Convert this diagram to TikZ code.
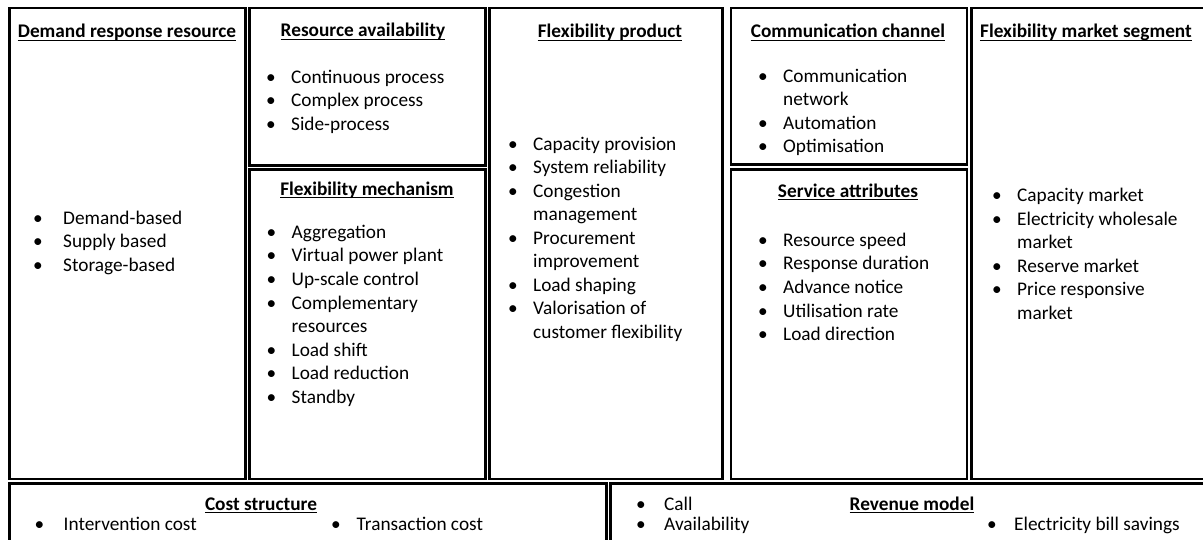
\documentclass[tikz,border=0pt]{standalone}
\usepackage{fontspec}
\setmainfont{Carlito}
\begin{document}
\begin{tikzpicture}[x=1pt,y=-1pt,
  box/.style={draw=black,line width=2.7pt},
  ttl/.style={inner sep=0pt,font=\bfseries\fontsize{19.3}{23.4}\selectfont,anchor=base},
  itm/.style={inner sep=0pt,font=\fontsize{19.3}{23.4}\selectfont,anchor=base west},
  bul/.style={inner sep=0pt,font=\fontsize{19.3}{23.4}\selectfont,anchor=base},
  ul/.style={line width=1.3pt}]
\useasboundingbox (0,0) rectangle (1203,540);
\fill[white] (0,0) rectangle (1203,540);
\clip (0,0) rectangle (1203,540);
% boxes
\draw[box] (9.5,8) rectangle (245.3,479);
\draw[box] (249.3,8) rectangle (485.3,165.3);
\draw[box] (249.3,169.8) rectangle (485.3,479);
\draw[box] (489.3,8) rectangle (722.3,479);
\draw[box] (731,8) rectangle (967,164.8);
\draw[box] (731,169.3) rectangle (967,479);
\draw[box] (971.8,8) rectangle (1215,479);
\draw[box] (9.5,483.5) rectangle (606.5,560);
\draw[box] (610.8,483.5) rectangle (1215,560);
% titles
\foreach \nm/\xx/\yy/\lbl in {drr/127/38/Demand response resource, ra/363/37/Resource availability, fm/367/195.5/Flexibility mechanism, fp/610/38/Flexibility product, cc/848/38/Communication channel, sa/848/197.5/Service attributes, fms/1086/38/Flexibility market segment, cs/261/510.5/Cost structure, rm/912/510.5/Revenue model}{
  \node[ttl] (t-\nm) at (\xx,\yy) {\lbl};
  \draw[ul] ([yshift=-2.3pt]t-\nm.base west) -- ([yshift=-2.3pt]t-\nm.base east);
}
% lists
\foreach \kk/\qq/\lbl in {0/1/Demand-based,1/1/Supply based,2/1/Storage-based}{
  \node[itm] (drr-\kk) at (63,224.5+\kk*23.5) {\lbl};
  \ifnum\qq=1 \node[bul] (drr-b\kk) at (38,224.5+\kk*23.5) {\textbullet};\fi
}
\foreach \kk/\qq/\lbl in {0/1/Continuous process,1/1/Complex process,2/1/Side-process}{
  \node[itm] (ra-\kk) at (291,83.5+\kk*23.5) {\lbl};
  \ifnum\qq=1 \node[bul] (ra-b\kk) at (271,83.5+\kk*23.5) {\textbullet};\fi
}
\foreach \kk/\qq/\lbl in {0/1/Aggregation,1/1/Virtual power plant,2/1/Up-scale control,3/1/Complementary,4/0/resources,5/1/Load shift,6/1/Load reduction,7/1/Standby}{
  \node[itm] (fm-\kk) at (291.5,238.5+\kk*23.5) {\lbl};
  \ifnum\qq=1 \node[bul] (fm-b\kk) at (271.5,238.5+\kk*23.5) {\textbullet};\fi
}
\foreach \kk/\qq/\lbl in {0/1/Capacity provision,1/1/System reliability,2/1/Congestion,3/0/management,4/1/Procurement,5/0/improvement,6/1/Load shaping,7/1/Valorisation of,8/0/customer flexibility}{
  \node[itm] (fp-\kk) at (533,150.3+\kk*23.5) {\lbl};
  \ifnum\qq=1 \node[bul] (fp-b\kk) at (513,150.3+\kk*23.5) {\textbullet};\fi
}
\foreach \kk/\qq/\lbl in {0/1/Communication,1/0/network,2/1/Automation,3/1/Optimisation}{
  \node[itm] (cc-\kk) at (783,82.3+\kk*23.4) {\lbl};
  \ifnum\qq=1 \node[bul] (cc-b\kk) at (763,82.3+\kk*23.4) {\textbullet};\fi
}
\foreach \kk/\qq/\lbl in {0/1/Resource speed,1/1/Response duration,2/1/Advance notice,3/1/Utilisation rate,4/1/Load direction}{
  \node[itm] (sa-\kk) at (783,246.5+\kk*23.5) {\lbl};
  \ifnum\qq=1 \node[bul] (sa-b\kk) at (763,246.5+\kk*23.5) {\textbullet};\fi
}
\foreach \kk/\qq/\lbl in {0/1/Capacity market,1/1/Electricity wholesale,2/0/market,3/1/Reserve market,4/1/Price responsive,5/0/market}{
  \node[itm] (fms-\kk) at (1017,202+\kk*23.5) {\lbl};
  \ifnum\qq=1 \node[bul] (fms-b\kk) at (997,202+\kk*23.5) {\textbullet};\fi
}
% bottom row
\node[itm] (cs-0) at (63.5,530.5) {Intervention cost};
\node[bul] (cs-b0) at (39.5,530.5) {\textbullet};
\node[itm] (cs-1) at (356.5,530.5) {Transaction cost};
\node[bul] (cs-b1) at (336,530.5) {\textbullet};
\node[itm] (rm-0) at (664,510.5) {Call};
\node[bul] (rm-b0) at (641,510.5) {\textbullet};
\node[itm] (rm-1) at (664,530.5) {Availability};
\node[bul] (rm-b1) at (641,530.5) {\textbullet};
\node[itm] (rm-2) at (1014,530.5) {Electricity bill savings};
\node[bul] (rm-b2) at (992,530.5) {\textbullet};
\end{tikzpicture}
\end{document}
